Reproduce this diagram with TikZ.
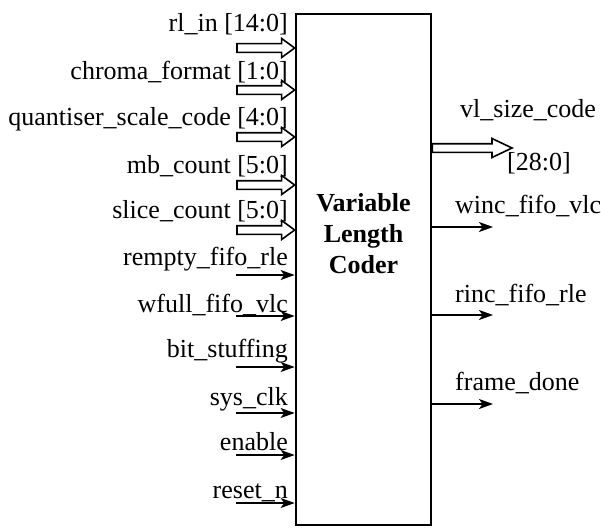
\documentclass[tikz,border=0pt]{standalone}
\usepackage{fontspec}
\setmainfont{Liberation Serif}
\usetikzlibrary{arrows.meta,calc}

\tikzset{
  block/.style={draw, line width=2.7pt, minimum width=135pt, minimum height=511pt, inner sep=0pt},
  sig/.style={inner sep=0pt, font=\fontsize{26}{31}\selectfont},
  inlabel/.style={sig, anchor=base east},
  outlabel/.style={sig, anchor=base west},
  wire/.style={line width=1.3pt, -{Stealth[length=14pt,width=10pt,inset=3.5pt]}},
  bus/.style={draw, line width=1.6pt, fill=white, line join=miter},
}

% hollow bus arrow: #1 tail, #2 tip, #3 head length
\newcommand\busarrow[3]{%
  \path[bus] ($(#1)+(0,4.3)$) -- ($(#2)+(-#3,4.3)$) -- ($(#2)+(-#3,9.5)$) -- (#2)
    -- ($(#2)+(-#3,-9.5)$) -- ($(#2)+(-#3,-4.3)$) -- ($(#1)+(0,-4.3)$) -- cycle;}

\begin{document}
\begin{tikzpicture}[x=1pt,y=-1pt]
\useasboundingbox (0,0) rectangle (601,527);

% the coder block
\node[block] (vlc) at (363.5,269.5) {};
\node[sig, font=\fontsize{26}{31}\selectfont\bfseries, align=center] (title) at (363.5,234) {Variable\\Length\\Coder};

% bus inputs
\foreach \n/\txt/\ay/\ty in {rl/{rl\_in [14:0]}/48/32,
    chroma/{chroma\_format [1:0]}/90/79,
    quant/{quantiser\_scale\_code [4:0]}/137/125,
    mb/{mb\_count [5:0]}/185/173,
    slice/{slice\_count [5:0]}/230/218}{
  \node[inlabel] (l-\n) at (288,\ty) {\txt};
  \coordinate (t-\n) at (237,\ay);
  \coordinate (h-\n) at (vlc.west |- t-\n);
  \busarrow{t-\n}{h-\n}{13}
}

% single-bit inputs
\foreach \n/\txt/\ay/\ty in {rempty/{rempty\_fifo\_rle}/275/265,
    wfull/{wfull\_fifo\_vlc}/316/312,
    bits/{bit\_stuffing}/367/357,
    clk/{sys\_clk}/413/405,
    en/{enable}/455/450,
    rst/{reset\_n}/503/498}{
  \node[inlabel] (l-\n) at (288,\ty) {\txt};
  \coordinate (t-\n) at (236,\ay);
  \draw[wire] (t-\n) -- (vlc.west |- t-\n);
}

% bus output
\coordinate (o-vl) at (512,148);
\busarrow{vlc.east |- o-vl}{o-vl}{20}
\node[outlabel] (l-vl) at (460,117) {vl\_size\_code};
\node[outlabel] (l-vlw) at (507,170) {[28:0]};

% single-bit outputs
\foreach \n/\txt/\ay/\ty in {winc/{winc\_fifo\_vlc}/227/213,
    rinc/{rinc\_fifo\_rle}/315/302,
    done/{frame\_done}/404/390}{
  \coordinate (o-\n) at (493,\ay);
  \draw[wire] (vlc.east |- o-\n) -- (o-\n);
  \node[outlabel] (l-\n) at (455,\ty) {\txt};
}
\end{tikzpicture}
\end{document}
